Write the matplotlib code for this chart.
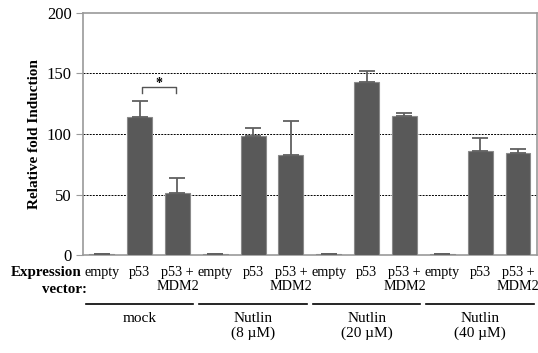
import numpy as np
import matplotlib.pyplot as plt
from matplotlib.transforms import blended_transform_factory

plt.rcParams['font.family'] = ['Liberation Serif', 'DejaVu Serif']

# fold induction for each expression vector, grouped by treatment
groups = ["mock", "Nutlin\n(8 \u00b5M)", "Nutlin\n(20 \u00b5M)", "Nutlin\n(40 \u00b5M)"]
vectors = ["empty", "p53", "p53 +\nMDM2"]
values = [1, 114, 51,
          1, 98, 83,
          1, 143, 115,
          1, 86, 84]
errors = [0, 13, 13,
          0, 7, 28,
          0, 9, 2,
          0, 11, 4]

fig = plt.figure(figsize=(5.38, 3.53), dpi=100)
ax = fig.add_axes([0.154, 0.2776, 0.844, 0.6856])

x = np.arange(len(values))
ax.bar(x, values, width=0.66, color="#595959", edgecolor="#8a8a8a", linewidth=0.8, zorder=3)
ax.errorbar(x, values, yerr=[np.zeros(len(errors)), errors], fmt="none",
            ecolor="#606060", elinewidth=1.3, capsize=6, capthick=1.3, zorder=4)

ax.set_xlim(-0.5, len(values) - 0.5)
ax.set_ylim(0, 200)
ax.set_yticks([0, 50, 100, 150, 200])
ax.set_xticks([])
for yv in [50, 100, 150]:
    ax.axhline(yv, color="black", linestyle=(0, (2, 1.2)), linewidth=0.7, zorder=1)
for s in ax.spines.values():
    s.set_color("#9a9a9a")
    s.set_linewidth(1.2)
ax.tick_params(axis="y", length=5, color="#9a9a9a", labelsize=12, pad=3)
ax.set_ylabel("Relative fold Induction", fontsize=11, fontweight="bold", labelpad=4)

# significance bracket between p53 and p53+MDM2 in mock
ax.plot([1.05, 1.05, 1.97, 1.97], [134, 139, 139, 134], color="#555555", linewidth=1,
        clip_on=False, zorder=5)
ax.text(1.51, 142, "*", ha="center", va="center", fontsize=10, fontweight="bold")

trans = blended_transform_factory(ax.transData, fig.transFigure)
for i in range(len(values)):
    ax.text(i, 1 - 266 / 353, vectors[i % 3], transform=trans, ha="center", va="top",
            fontsize=10.2, linespacing=1.05)
fig.text(82 / 538, 1 - 266 / 353, "Expression", ha="right", va="top",
         fontsize=10.8, fontweight="bold")
fig.text(87 / 538, 1 - 283 / 353, "vector:", ha="right", va="top",
         fontsize=10.8, fontweight="bold")

for g, name in enumerate(groups):
    x0, x1 = 3 * g - 0.42, 3 * g + 2.42
    ax.plot([x0, x1], [1 - 304 / 353] * 2, transform=trans, color="black",
            linewidth=1.2, clip_on=False)
    ax.text(3 * g + 1, 1 - 312 / 353, name, transform=trans, ha="center", va="top",
            fontsize=11, linespacing=1.1)

fig.savefig("out.png", dpi=100)
